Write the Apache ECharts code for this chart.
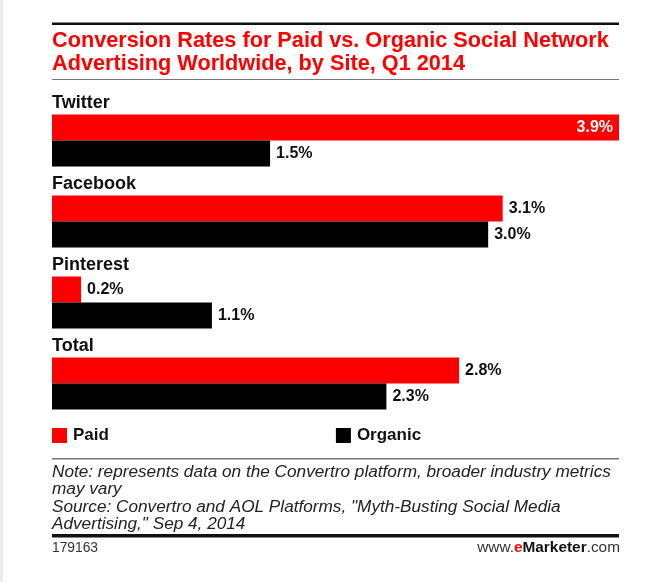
<!DOCTYPE html>
<html>
<head>
<meta charset="utf-8">
<style>
  html, body { margin: 0; padding: 0; background: #fff; }
  #chart { width: 652px; height: 582px; }
</style>
<script src="https://cdn.jsdelivr.net/npm/echarts@6/dist/echarts.min.js"></script>
</head>
<body>
<div id="chart"></div>
<script>
const sites = ['Twitter', 'Facebook', 'Pinterest', 'Total'];
const paid = [3.9, 3.1, 0.2, 2.8];
const organic = [1.5, 3.0, 1.1, 2.3];
const titleText = 'Conversion Rates for Paid vs. Organic Social Network\nAdvertising Worldwide, by Site, Q1 2014';
const noteLines = [
  'Note: represents data on the Convertro platform, broader industry metrics',
  'may vary',
  'Source: Convertro and AOL Platforms, "Myth-Busting Social Media',
  'Advertising," Sep 4, 2014',
];
const chartId = '179163';

const RED = '#fe0000';
const FONT = '"Liberation Sans", Arial, sans-serif';

const barLabel = {
  show: true,
  position: 'right',
  distance: 6,
  formatter: (p) => `${p.value.toFixed(1)}%`,
  fontFamily: FONT,
  fontSize: 16,
  fontWeight: 'bold',
  color: '#111',
};

const chart = echarts.init(document.getElementById('chart'), null, { renderer: 'canvas' });

chart.setOption({
  animation: false,
  backgroundColor: '#fff',
  title: [
    {
      text: titleText,
      left: 52,
      top: 30,
      padding: 0,
      textStyle: { fontFamily: FONT, fontSize: 21.7, fontWeight: 'bold', color: RED, lineHeight: 23 },
    },
    {
      text: noteLines.join('\n'),
      left: 52,
      top: 463,
      padding: 0,
      textStyle: { fontFamily: FONT, fontSize: 17.2, fontWeight: 'normal', fontStyle: 'italic', color: '#222', lineHeight: 17.6 },
    },
    {
      text: chartId,
      left: 52,
      top: 541,
      padding: 0,
      textStyle: { fontFamily: FONT, fontSize: 13.8, fontWeight: 'normal', color: '#333' },
    },
    {
      text: '{a|www.}{b|e}{c|Marketer}{a|.com}',
      right: 32,
      top: 540,
      padding: 0,
      textStyle: {
        fontWeight: 'normal',
        rich: {
          a: { fontFamily: FONT, fontSize: 15.4, fontWeight: 'normal', color: '#333' },
          b: { fontFamily: FONT, fontSize: 15.4, fontWeight: 'bold', color: RED },
          c: { fontFamily: FONT, fontSize: 15.4, fontWeight: 'bold', color: '#111' },
        },
      },
    },
  ],
  legend: {
    data: ['Paid', 'Organic'],
    left: 52,
    top: 427,
    padding: 0,
    icon: 'rect',
    itemWidth: 15,
    itemHeight: 15,
    itemGap: 227,
    textStyle: { fontFamily: FONT, fontSize: 17, fontWeight: 'bold', color: '#111', padding: [0, 0, 0, 1] },
  },
  grid: { left: 52, right: 33, top: 100, height: 324 },
  xAxis: {
    type: 'value',
    min: 0,
    max: 3.9,
    show: false,
  },
  yAxis: {
    type: 'category',
    data: sites,
    inverse: true,
    axisLine: { show: false },
    axisTick: { show: false },
    axisLabel: {
      inside: true,
      margin: 0,
      align: 'left',
      verticalAlign: 'bottom',
      padding: [0, 0, 28, 0],
      fontFamily: FONT,
      fontSize: 18,
      fontWeight: 'bold',
      color: '#111',
    },
  },
  series: [
    {
      name: 'Paid',
      type: 'bar',
      data: paid.map((v, i) => (i === 0
        ? { value: v, label: { position: 'insideRight', color: '#fff', distance: 6 } }
        : v)),
      barWidth: 26,
      barGap: '0%',
      itemStyle: { color: RED },
      label: barLabel,
    },
    {
      name: 'Organic',
      type: 'bar',
      data: organic,
      barWidth: 26,
      itemStyle: { color: '#000' },
      label: barLabel,
    },
  ],
  graphic: [
    { type: 'rect', shape: { x: 0, y: 0, width: 3, height: 582 }, style: { fill: '#ececec' } },
    { type: 'rect', shape: { x: 52, y: 22.5, width: 567, height: 2.5 }, style: { fill: '#111' } },
    { type: 'rect', shape: { x: 52, y: 79, width: 567, height: 1 }, style: { fill: '#777' } },
    { type: 'rect', shape: { x: 52, y: 458, width: 567, height: 1.5 }, style: { fill: '#777' } },
    { type: 'rect', shape: { x: 52, y: 534, width: 567, height: 3.5 }, style: { fill: '#111' } },
  ],
});
</script>
</body>
</html>
